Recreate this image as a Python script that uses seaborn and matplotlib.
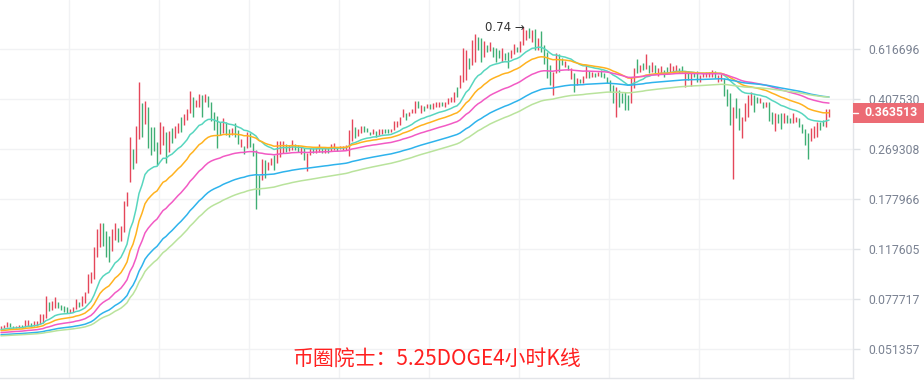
import numpy as np
import pandas as pd
import matplotlib
matplotlib.use("Agg")
import matplotlib.pyplot as plt
import seaborn as sns
from matplotlib.patches import Rectangle
from matplotlib.ticker import FixedLocator, FuncFormatter, NullLocator

# ==================================================
# DATA (DOGE 4h candles)
# ==================================================

first_open = 0.0606

highs = [
    .0622, .0627, .0643, .0637, .0622, .0622, .0627, .0627, .0653, .0653,
    .0637, .0648, .0648, .0687, .0687, .0797, .0758, .0765, .0790, .0758,
    .0740, .0733, .0727, .0716, .0727, .0777, .0758, .0797, .0824, .0956,
    .0972, .1196, .1388, .1459, .1459, .1365, .1310, .1388, .1459, .1400,
    .1423, .1750, .1886, .2975, .2693, .3258, .4692, .3943, .4008, .3814,
    .3232, .3232, .2854, .3368, .3258, .3100, .3126, .3205, .3258, .3341,
    .3511, .3599, .3751, .4355, .4143, .4042, .4248, .4213, .4248, .4178,
    .3975, .3659, .3540, .3368, .3482, .3368, .3179, .3205, .3341, .3152,
    .2926, .2761, .3100, .3075, .2830, .2671, .2171, .2479, .2459, .2418,
    .2500, .2563, .2878, .2878, .2878, .2807, .2784, .2902, .2807, .2784,
    .2738, .2716, .2605, .2716, .2716, .2738, .2807, .2738, .2738, .2738,
    .2807, .2830, .2738, .2761, .2761, .2784, .3152, .3453, .3232, .3179,
    .3258, .3258, .3205, .3100, .3179, .3126, .3179, .3179, .3179, .3179,
    .3179, .3396, .3396, .3511, .3751, .3629, .3659, .3751, .4008, .4008,
    .3878, .3846, .3910, .3910, .3943, .3975, .3975, .3975, .3975, .4109,
    .4143, .4319, .4501, .4972, .6218, .6116, .5724, .6644, .6983, .6812,
    .6756, .6590, .6375, .6535, .6270, .6218, .6116, .6218, .5966, .6016,
    .6116, .6428, .6270, .6590, .7400, .7218, .7339, .7218, .7279, .6756,
    .7159, .6375, .6016, .5401, .5097, .5966, .5917, .5724, .5583, .5401,
    .5269, .5055, .4850, .4810, .4931, .5401, .5139, .5097, .5055, .5097,
    .5182, .5055, .4890, .4770, .4577, .4501, .4391, .4283, .4319, .4213,
    .4890, .5269, .5677, .5401, .5492, .5917, .5401, .5537, .5401, .5269,
    .5357, .5182, .5313, .5492, .5357, .5401, .5269, .5357, .5139, .5139,
    .5055, .5097, .5139, .4972, .5055, .5097, .5097, .5182, .5139, .4972,
    .5013, .4850, .4428, .4283, .3814, .4109, .3782, .3511, .3943, .4213,
    .4319, .4213, .4143, .4109, .3975, .3975, .3975, .3659, .3629, .3599,
    .3629, .3629, .3569, .3482, .3629, .3511, .3482, .3313, .3179, .3075,
    .3205, .3258, .3368, .3368, .3425, .3751, .3751,
]

lows = [
    .0606, .0611, .0616, .0616, .0611, .0611, .0611, .0611, .0616, .0622,
    .0616, .0622, .0622, .0632, .0637, .0664, .0704, .0710, .0721, .0721,
    .0710, .0698, .0692, .0692, .0698, .0716, .0727, .0733, .0752, .0817,
    .0888, .0917, .1101, .1196, .1206, .1101, .1056, .1157, .1267, .1246,
    .1257, .1354, .1679, .2049, .2282, .2398, .2926, .2975, .3313, .2716,
    .2563, .2649, .2359, .2584, .2784, .2398, .2627, .2830, .2950, .3075,
    .3100, .3286, .3425, .3629, .3511, .3814, .3814, .3511, .3975, .3814,
    .3396, .3152, .2716, .3024, .3075, .3024, .2975, .3024, .2975, .2807,
    .2738, .2584, .2716, .2738, .2541, .1638, .1840, .2083, .2118, .2263,
    .2359, .2263, .2398, .2520, .2605, .2627, .2649, .2671, .2671, .2627,
    .2584, .2459, .2244, .2563, .2605, .2605, .2627, .2605, .2605, .2605,
    .2649, .2671, .2649, .2693, .2671, .2671, .2541, .2878, .2950, .2999,
    .3075, .3100, .3100, .3024, .3049, .2975, .3024, .3049, .3075, .3075,
    .3100, .3152, .3232, .3286, .3511, .3425, .3540, .3629, .3629, .3782,
    .3629, .3690, .3782, .3751, .3751, .3814, .3814, .3846, .3814, .3910,
    .3975, .3975, .4143, .4464, .4692, .4770, .5225, .5401, .5537, .6116,
    .5537, .5772, .6016, .6066, .5772, .5537, .5724, .5537, .5630, .5269,
    .5724, .5917, .6016, .6016, .6375, .6644, .6756, .6535, .6116, .6116,
    .6016, .5446, .4850, .4577, .4213, .5055, .5097, .5401, .5313, .5182,
    .4810, .4319, .4577, .4653, .4653, .4850, .4850, .4890, .4890, .4931,
    .4890, .4850, .4653, .4319, .3943, .3511, .3814, .3943, .3720, .3720,
    .3943, .4464, .5055, .5097, .5182, .5225, .5055, .5097, .5055, .4931,
    .5055, .4890, .5055, .5097, .5139, .5139, .5055, .5097, .4501, .4770,
    .4539, .4890, .4692, .4692, .4890, .4890, .4890, .4890, .4850, .4692,
    .4731, .4178, .3846, .3286, .2100, .3482, .3152, .2950, .3396, .3511,
    .3878, .3659, .3943, .3943, .3782, .3814, .3396, .3313, .3126, .3341,
    .3179, .3341, .3341, .3341, .3341, .3368, .3232, .3075, .2784, .2479,
    .2878, .2950, .2975, .3152, .3258, .3232, .3511,
]

closes = [
    .0622, .0627, .0637, .0622, .0616, .0622, .0627, .0616, .0648, .0653,
    .0622, .0643, .0648, .0681, .0687, .0784, .0716, .0758, .0784, .0733,
    .0716, .0704, .0698, .0710, .0721, .0771, .0733, .0790, .0817, .0940,
    .0956, .1166, .1354, .1423, .1226, .1128, .1092, .1354, .1435, .1267,
    .1388, .1693, .1870, .2902, .2339, .3152, .4042, .3286, .3910, .2902,
    .2671, .2649, .2418, .3205, .3232, .2500, .3049, .2902, .3205, .3313,
    .3179, .3540, .3690, .4213, .3659, .4008, .4178, .3629, .4178, .3910,
    .3511, .3232, .3075, .3024, .3425, .3100, .3024, .3179, .3049, .2854,
    .2902, .2627, .3024, .2784, .2584, .2500, .1917, .2418, .2171, .2378,
    .2479, .2320, .2830, .2854, .2878, .2671, .2761, .2878, .2716, .2671,
    .2716, .2563, .2584, .2693, .2627, .2716, .2761, .2671, .2716, .2649,
    .2784, .2807, .2671, .2738, .2761, .2784, .3100, .3396, .3024, .3152,
    .3232, .3152, .3126, .3049, .3152, .3024, .3152, .3179, .3100, .3075,
    .3152, .3368, .3396, .3482, .3720, .3482, .3629, .3720, .3975, .3846,
    .3878, .3720, .3878, .3782, .3910, .3943, .3975, .3878, .3943, .4075,
    .4109, .4283, .4178, .4890, .5820, .6016, .5357, .6428, .6756, .6270,
    .5724, .6428, .6116, .6428, .5917, .5820, .5772, .6016, .5724, .5492,
    .6016, .6322, .6116, .6481, .7100, .7159, .6925, .7100, .6375, .6644,
    .6218, .5630, .5097, .4770, .4972, .5820, .5492, .5446, .5537, .5225,
    .5269, .4577, .4810, .4692, .4890, .5313, .4931, .5055, .4931, .5055,
    .4931, .4890, .4731, .4428, .4042, .4319, .4042, .3975, .3846, .3782,
    .4770, .5182, .5097, .5357, .5225, .5772, .5182, .5446, .5182, .5225,
    .5313, .5097, .5055, .5269, .5357, .5401, .5139, .5097, .5139, .4890,
    .5013, .4931, .4810, .4931, .5013, .5055, .5097, .5139, .4931, .4972,
    .5013, .4319, .3943, .3569, .3720, .3599, .3286, .3425, .3846, .4109,
    .4248, .4042, .3975, .4075, .3846, .3943, .3540, .3425, .3540, .3396,
    .3286, .3569, .3396, .3368, .3453, .3482, .3286, .3126, .2878, .2671,
    .3126, .3205, .3313, .3286, .3258, .3629, .363513,
]

# moving averages: span and the value each line starts at (left edge)
ma_spans = [20, 35, 60, 100, 130]
ma_start = [0.0601, 0.0596, 0.0587, 0.0577, 0.0572]
ma_colors = ["#58d6bf", "#ffb21f", "#f25ac4", "#2eb3ec", "#b9e39c"]

price_ticks = [0.051357, 0.077717, 0.117605, 0.177966, 0.269308, 0.407530, 0.616696]
last_price = 0.363513
peak_price = 0.74
peak_index = 174.7
title_text = "币圈院士：5.25DOGE4小时K线"

up_color = "#e5475a"
down_color = "#3fae74"

# ==================================================
# PLOT
# ==================================================

sns.set_theme(style="white")
plt.rcParams["font.family"] = ["Roboto", "DejaVu Sans"]

n = len(closes)
assert len(highs) == n and len(lows) == n
idx = np.arange(n)
opens = [first_open] + closes[:-1]
candle_colors = [up_color if c >= o else down_color for o, c in zip(opens, closes)]

W, H = 924, 382
fig = plt.figure(figsize=(W / 100, H / 100), dpi=100)
ax = fig.add_axes([0, 4 / H, 853 / W, 1 - 4 / H])

ax.set_yscale("log")
ax.set_ylim(0.040378, 0.92586)
ax.set_xlim(-1 / 3, 284)

# grid
ax.set_axisbelow(True)
ax.xaxis.set_major_locator(FixedLocator(np.arange(22.67, 284, 30)))
ax.yaxis.set_major_locator(FixedLocator(price_ticks))
ax.yaxis.set_minor_locator(NullLocator())
ax.yaxis.set_major_formatter(FuncFormatter(lambda v, p: f"{v:.6f}"))
ax.grid(True, color="#f1f2f4", linewidth=1.0)

ax.yaxis.tick_right()
ax.tick_params(axis="y", which="major", direction="out", length=5, width=1,
               color="#dfe2e6", labelcolor="#7a8292", labelsize=8.8, pad=6)
ax.tick_params(axis="x", length=0, labelbottom=False)

for side in ["top", "left"]:
    ax.spines[side].set_visible(False)
for side in ["right", "bottom"]:
    ax.spines[side].set_color("#e3e5e9")
    ax.spines[side].set_linewidth(1.0)

# candles
ax.vlines(idx, lows, highs, colors=candle_colors, linewidth=1.0, zorder=2)

# moving averages
for span, start, color in zip(ma_spans, ma_start, ma_colors):
    ma = pd.Series([start] + closes).ewm(span=span, adjust=False).mean().iloc[1:]
    sns.lineplot(x=idx, y=ma.values, ax=ax, color=color, linewidth=1.1,
                 legend=False, zorder=3)

# peak label
ax.text(peak_index, peak_price, "0.74 →", ha="right", va="center",
        fontsize=8.5, color="#333333", family=["DejaVu Sans"], zorder=4)

# last price tag on the right axis
fig.canvas.draw()
y_disp = ax.transData.transform((0, last_price))[1]
fig.patches.append(Rectangle((853 / W, (y_disp - 10) / H), 71 / W, 20 / H,
                             transform=fig.transFigure, facecolor="#ec6b74",
                             edgecolor="none", zorder=5))
fig.lines.append(plt.Line2D([853 / W, 858 / W], [y_disp / H, y_disp / H],
                            transform=fig.transFigure, color="white", lw=1, zorder=6))
fig.text(864 / W, y_disp / H, f"{last_price:.6f}", ha="left", va="center",
         color="white", fontsize=8.8, fontweight="bold", zorder=7)

# caption
fig.text(437 / W, (H - 359) / H, title_text, ha="center", va="center",
         color="#ff1f1f", fontsize=15,
         family=["Noto Sans CJK SC", "DejaVu Sans"], zorder=8)

fig.savefig("out.png", dpi=100)
